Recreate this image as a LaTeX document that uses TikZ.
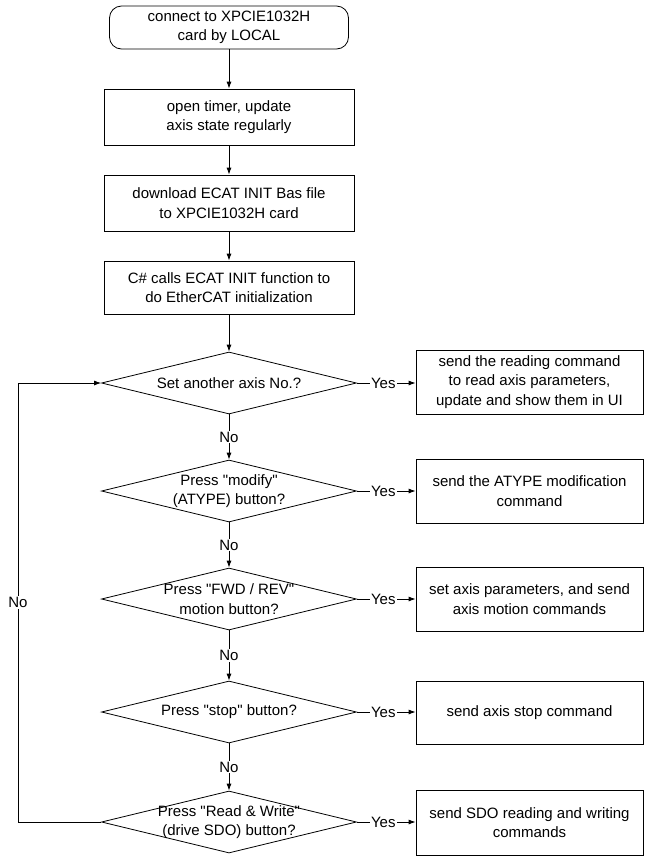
\documentclass[tikz,border=0pt]{standalone}
\usepackage{fontspec}
\setmainfont{Liberation Sans}[Ligatures=TeXOff]
\usetikzlibrary{shapes.geometric,arrows.meta}
\begin{document}
\begin{tikzpicture}[x=1pt,y=-1pt,
  every node/.style={font=\fontsize{15}{19.5}\selectfont, align=center},
  procbox/.style={draw, line width=0.8pt, inner sep=0pt, minimum width=#1},
  procbox/.default=250pt,
  startbox/.style={draw, line width=0.8pt, rounded corners=12pt, inner sep=0pt, minimum width=239pt, minimum height=43pt},
  dia/.style={draw, line width=0.8pt, diamond, aspect=4, inner sep=0pt, minimum width=255pt, minimum height=62pt},
  arr/.style={draw, line width=0.8pt, -{Latex[length=7pt,width=5pt]}},
  lbl/.style={fill=white, inner sep=1pt}]
\useasboundingbox (0,0) rectangle (650,863);

\node[startbox] (s) at (229,27.5) {connect to XPCIE1032H\\card by LOCAL};
\node[procbox, minimum height=56pt] (b1) at (229,117) {open timer, update\\axis state regularly};
\node[procbox, minimum height=56pt] (b2) at (229,203) {download ECAT INIT Bas file\\to XPCIE1032H card};
\node[procbox, minimum height=53pt] (b3) at (229,287.5) {C\# calls ECAT INIT function to\\do EtherCAT initialization};

\node[dia, label={[align=center]center:Set another axis No.?}] (d1) at (229,383) {};
\node[dia, label={[align=center]center:Press "modify"\\(ATYPE) button?}] (d2) at (229,491) {};
\node[dia, label={[align=center]center:Press "FWD / REV"\\motion button?}] (d3) at (229,599) {};
\node[dia, label={[align=center]center:Press "stop" button?}] (d4) at (229,712) {};
\node[dia, label={[align=center]center:Press "Read \& Write"\\(drive SDO) button?}] (d5) at (229,822) {};

\node[procbox=227pt, minimum height=64pt] (r1) at (529.5,382) {send the reading command\\to read axis parameters,\\update and show them in UI};
\node[procbox=227pt, minimum height=64pt] (r2) at (529.5,491) {send the ATYPE modification\\command};
\node[procbox=227pt, minimum height=64pt] (r3) at (529.5,599) {set axis parameters, and send\\axis motion commands};
\node[procbox=227pt, minimum height=63pt] (r4) at (529.5,712.5) {send axis stop command};
\node[procbox=227pt, minimum height=65pt] (r5) at (529.5,822.5) {send SDO reading and writing\\commands};

\draw[arr] (s) -- (b1);
\draw[arr] (b1) -- (b2);
\draw[arr] (b2) -- (b3);
\draw[arr] (b3.south) -- (d1.north);
\draw[arr] (d1.south) -- node[lbl]{No} (d2.north);
\draw[arr] (d2.south) -- node[lbl]{No} (d3.north);
\draw[arr] (d3.south) -- node[lbl]{No} (d4.north);
\draw[arr] (d4.south) -- node[lbl]{No} (d5.north);

\draw[arr] (d1.east) -- node[lbl,pos=0.45]{Yes} (r1.west |- d1.east);
\draw[arr] (d2.east) -- node[lbl,pos=0.45]{Yes} (r2.west |- d2.east);
\draw[arr] (d3.east) -- node[lbl,pos=0.45]{Yes} (r3.west |- d3.east);
\draw[arr] (d4.east) -- node[lbl,pos=0.45]{Yes} (r4.west |- d4.east);
\draw[arr] (d5.east) -- node[lbl,pos=0.45]{Yes} (r5.west |- d5.east);

\coordinate (l1) at (18,822);
\coordinate (l2) at (18,383);
\draw[arr] (d5.west) -- (l1) -- node[lbl]{No} (l2) -- (d1.west);
\end{tikzpicture}
\end{document}
